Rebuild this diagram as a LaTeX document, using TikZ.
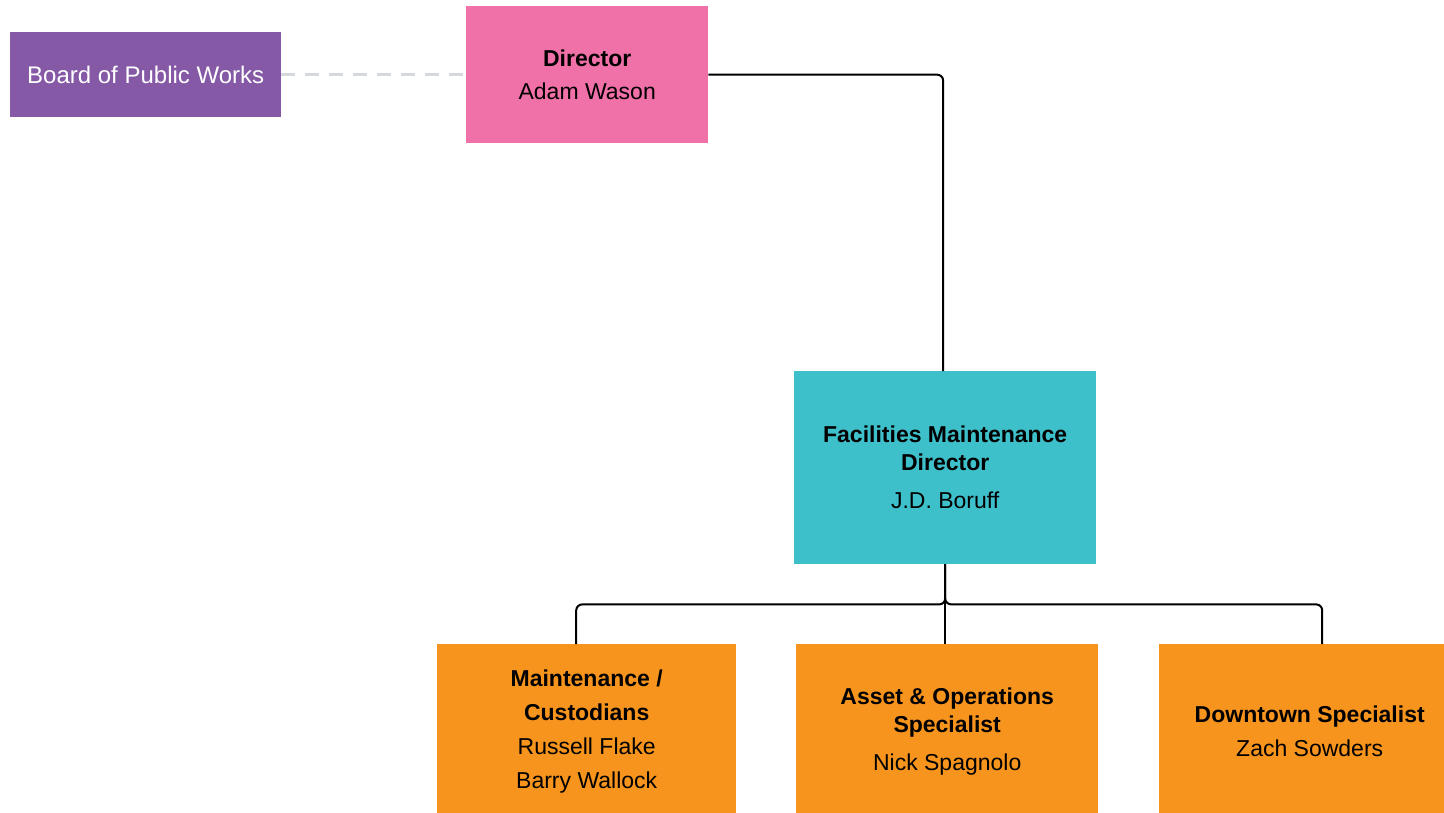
\documentclass[tikz,border=0pt]{standalone}
\usepackage{fontspec}
\setmainfont{Liberation Sans}
\usetikzlibrary{calc}

\definecolor{boardpurple}{HTML}{8559A5}
\definecolor{directorpink}{HTML}{F070A8}
\definecolor{fmteal}{HTML}{3EC0CB}
\definecolor{staffOrange}{HTML}{F7941E}
\definecolor{dashgray}{HTML}{D5D9DE}

\tikzset{
  orgbox/.style={draw=none, inner sep=0pt, anchor=north west, align=center,
    font=\fontsize{23}{28}\selectfont},
  link/.style={line width=2pt, black, rounded corners=6pt},
  advisory/.style={line width=2.5pt, dashgray, dash pattern=on 14pt off 10pt},
}

\begin{document}
\begin{tikzpicture}[x=1pt, y=-1pt]
  \useasboundingbox (0,0) rectangle (1444,812);

  % top row
  \node[orgbox, fill=boardpurple, text=white, minimum width=271pt, minimum height=85pt,
    font=\fontsize{24}{28}\selectfont]
    (board) at (10,32) {Board of Public Works};
  \node[orgbox, fill=directorpink, minimum width=242pt, minimum height=137pt]
    (director) at (466,6) {\textbf{Director}\\[5pt]Adam Wason};

  % facilities maintenance
  \node[orgbox, fill=fmteal, minimum width=302pt, minimum height=193pt]
    (fmd) at (794,371) {\textbf{Facilities Maintenance}\\\textbf{Director}\\[10pt]J.D. Boruff};

  % staff row
  \node[orgbox, fill=staffOrange, minimum width=299pt, minimum height=175pt]
    (maint) at (437,644) {\textbf{Maintenance /}\\[6pt]\textbf{Custodians}\\[6pt]Russell Flake\\[6pt]Barry Wallock};
  \node[orgbox, fill=staffOrange, minimum width=302pt, minimum height=175pt]
    (asset) at (796,644) {\textbf{Asset \& Operations}\\\textbf{Specialist}\\[10pt]Nick Spagnolo};
  \node[orgbox, fill=staffOrange, minimum width=301pt, minimum height=175pt]
    (downtown) at (1159,644) {\textbf{Downtown Specialist}\\[6pt]Zach Sowders};

  % connectors
  \draw[advisory] (board.east) -- (director.west);
  \draw[link] (director.east) -| ([xshift=-2pt]fmd.north);

  \coordinate (bus) at ($(fmd.south)+(0,40)$);
  \draw[link] (fmd.south) -- (bus) -| ([xshift=-10.5pt]maint.north);
  \draw[link] (fmd.south) -- (bus) -- (asset.north -| bus);
  \draw[link] (fmd.south) -- (bus) -| ([xshift=12.5pt]downtown.north);
\end{tikzpicture}
\end{document}
